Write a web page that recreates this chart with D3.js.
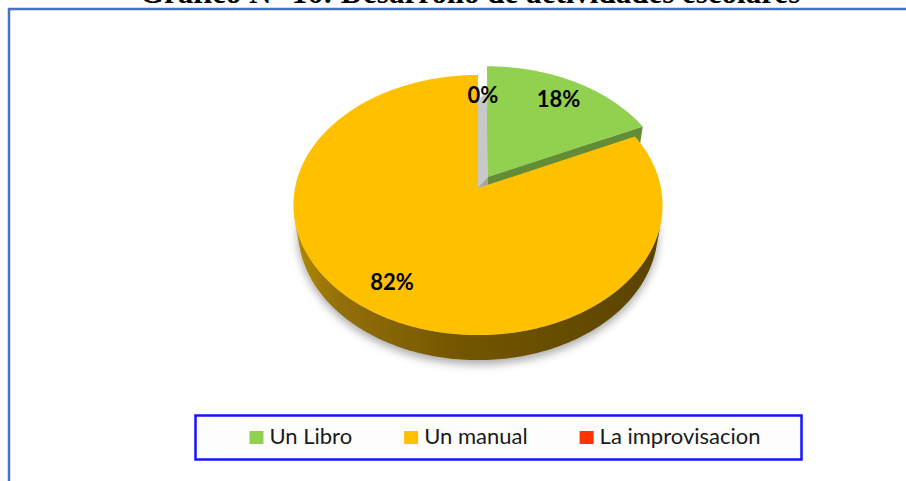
<!DOCTYPE html>
<html><head><meta charset="utf-8">
<script src="https://cdn.jsdelivr.net/npm/d3@7"></script>
<style>
html,body{margin:0;padding:0;background:#fff;}
svg{display:block;}
</style></head>
<body>
<svg id="chart" width="906" height="481"></svg>
<script>
const title = "Gráfico N° 16: Desarrollo de actividades escolares";
const categories = ["Un Libro", "Un manual", "La improvisacion"];
const values = [18, 82, 0];
const valueLabels = ["18%", "82%", "0%"];
const colors = ["#92d050", "#ffc000", "#ff3300"];
const explodeBy = [0.104, 0, 0];

const W = 906, H = 481;
const svg = d3.select("#chart");
const defs = svg.append("defs");
defs.append("filter").attr("id","blur").attr("x","-20%").attr("y","-20%").attr("width","140%").attr("height","140%")
  .append("feGaussianBlur").attr("stdDeviation", 5);
const grad = defs.append("linearGradient").attr("id","wallY").attr("gradientUnits","userSpaceOnUse")
  .attr("x1", 293).attr("x2", 662).attr("y1",0).attr("y2",0);
[[0,"#b38a00"],[0.12,"#94700a"],[0.45,"#735600"],[1,"#5a4300"]].forEach(([o,c])=>grad.append("stop").attr("offset",o).attr("stop-color",c));

// frame
svg.append("rect").attr("x",9).attr("y",9).attr("width",W+20).attr("height",H+20)
  .attr("fill","#fff").attr("stroke","#4472c4").attr("stroke-width",2.5);

// title (cut at top, as in the reference)
svg.append("text").attr("x",470).attr("y",3).attr("text-anchor","middle")
  .attr("font-family","'Liberation Serif','Times New Roman',serif").attr("font-weight","bold")
  .attr("font-size",31).attr("fill","#000").text(title);

// 3D projection
const cam = {D:5.47, phi:44.3*Math.PI/180, f:1001, cx:478, cy:188, h:0.2};
const cph = Math.cos(cam.phi), sph = Math.sin(cam.phi);
function proj(x,y,z){
  const depth = cam.D + y*cph - z*sph;
  const w = y*sph + z*cph;
  return [cam.cx + cam.f*x/depth, cam.cy - cam.f*w/depth];
}
const pie = d3.pie().sort(null).value(d=>d)(values);
const color = d3.scaleOrdinal().domain(categories).range(colors);
const line = d3.line();

function offsetOf(i){
  const a = (pie[i].startAngle + pie[i].endAngle)/2, e = explodeBy[i];
  return [Math.sin(a)*e, Math.cos(a)*e];
}
function rimPts(i, a0, a1, z){
  const [ox,oy] = offsetOf(i);
  const n = Math.max(2, Math.ceil(Math.abs(a1-a0)/(Math.PI/180)));
  return d3.range(n+1).map(k=>{const a = a0+(a1-a0)*k/n; return proj(Math.sin(a)+ox, Math.cos(a)+oy, z);});
}
function centerPt(i,z){ const [ox,oy]=offsetOf(i); return proj(ox,oy,z); }

const h = cam.h;
const g = svg.append("g");

// shadow
const shadowPts = d3.range(0,361,2).map(d=>{const a=d*Math.PI/180; return proj(Math.sin(a), Math.cos(a), -h);});
g.append("path").attr("d", line(shadowPts)+"Z").attr("transform","translate(0,4)")
  .attr("fill","#000").attr("opacity",0.35).attr("filter","url(#blur)");

// gray gap strip (0% slice wall)
const iG = 0;
const gStart = pie[iG].startAngle;
const [gox,goy] = offsetOf(iG);
const grayPts = [proj(0,1,-h), proj(Math.sin(gStart)+gox, Math.cos(gStart)+goy, -h), centerPt(iG,0), proj(0,0,0)];
g.append("path").attr("d", line(grayPts)+"Z").attr("fill","#c8c8c8");

const visLim = Math.acos(-1/(cam.D*cph));

const order = [0,2,1];
order.forEach(i=>{
  const p = pie[i];
  if (p.endAngle - p.startAngle <= 0) return;
  const base = d3.color(color(categories[i]));
  const endFace = [centerPt(i,0), rimPts(i,p.endAngle,p.endAngle,0)[0], rimPts(i,p.endAngle,p.endAngle,-h)[0], centerPt(i,-h)];
  if (Math.cos(p.endAngle) > 0 && Math.sin(p.endAngle) > 0) {
    g.append("path").attr("d", line(endFace)+"Z").attr("fill", base.darker(1.1));
  }
  const a0 = Math.max(p.startAngle, visLim), a1 = Math.min(p.endAngle, 2*Math.PI - visLim);
  if (a1 > a0) {
    const top = rimPts(i,a0,a1,0), bot = rimPts(i,a0,a1,-h).reverse();
    g.append("path").attr("d", line(top.concat(bot))+"Z").attr("fill", i===1 ? "url(#wallY)" : base.darker(1.2));
  }
  const topPts = [centerPt(i,0), ...rimPts(i,p.startAngle,p.endAngle,0)];
  g.append("path").attr("d", line(topPts)+"Z").attr("fill", base.formatHex());
});

// data labels
pie.forEach((p,i)=>{
  const a = (p.startAngle+p.endAngle)/2, r = 0.8;
  const [ox,oy] = offsetOf(i);
  const [x,y] = proj(Math.sin(a)*r+ox, Math.cos(a)*r+oy, 0);
  svg.append("text").attr("x", x + (values[i]===0 ? 5 : 0)).attr("y", y).attr("dy","0.35em")
    .attr("text-anchor","middle").attr("font-family","Lato, Carlito, sans-serif").attr("font-weight","bold")
    .attr("font-size",22).attr("fill","#000").text(valueLabels[i]);
});

// legend
const lg = svg.append("g");
lg.append("rect").attr("x",195.5).attr("y",415.5).attr("width",606).attr("height",44)
  .attr("fill","#fdfdfd").attr("stroke","#1414ff").attr("stroke-width",2.5);
const items = lg.selectAll("g.item").data(categories).join("g").attr("class","item");
items.append("rect").attr("width",14).attr("height",13).attr("y",431).attr("fill",d=>color(d));
items.append("text").attr("y",444).attr("font-family","Lato, Carlito, sans-serif").attr("font-size",22)
  .attr("fill","#1a1a1a").text(d=>d);
const gap = 52, sq = 14, sp = 6; const widths=[];
items.each(function(){ widths.push(d3.select(this).select("text").node().getComputedTextLength()); });
const total = d3.sum(widths.map(w=>sq+sp+w)) + gap*(widths.length-1);
let xCur = 505 - total/2;
items.each(function(d,k){
  const it = d3.select(this);
  it.select("rect").attr("x", xCur);
  it.select("text").attr("x", xCur+sq+sp);
  xCur += sq+sp+widths[k]+gap;
});
</script>
</body></html>
